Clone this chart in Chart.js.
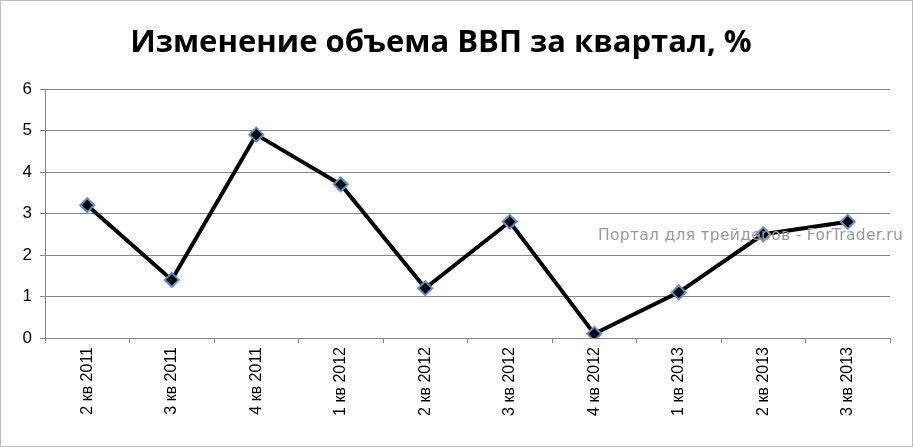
<!DOCTYPE html>
<html><head><meta charset="utf-8">
<script src="https://cdn.jsdelivr.net/npm/chart.js@4"></script>
<style>
body{margin:0;background:#fff;}
#wrap{position:absolute;left:0;top:0;width:911px;height:445px;border:1px solid #bdbdbd;}
#title{position:absolute;left:0;width:880px;top:18px;text-align:center;font:bold 31px "Open Sans",Arial,sans-serif;color:#000;}
#wm{position:absolute;left:597px;top:225px;font:15.5px "DejaVu Sans",sans-serif;color:#999;white-space:nowrap;letter-spacing:0.3px;}
canvas{position:absolute;left:0;top:0;}
</style></head><body>
<div id="wrap">
<canvas id="c" width="911" height="445"></canvas>
<div id="title">Изменение объема ВВП за квартал, %</div>
<div id="wm">Портал для трейдеров - ForTrader.ru</div>
</div>
<script>
const categories = ["2 кв 2011","3 кв 2011","4 кв 2011","1 кв 2012","2 кв 2012","3 кв 2012","4 кв 2012","1 кв 2013","2 кв 2013","3 кв 2013"];
const gdpChange = [3.2, 1.4, 4.9, 3.7, 1.2, 2.8, 0.1, 1.1, 2.5, 2.8];

new Chart(document.getElementById("c"), {
  type: "line",
  data: {
    labels: categories,
    datasets: [{
      data: gdpChange,
      borderColor: "#000",
      borderWidth: 4,
      tension: 0,
      pointStyle: "rectRot",
      pointRadius: 7,
      pointBackgroundColor: "#000",
      pointBorderColor: "#5b8fd0",
      pointBorderWidth: 2
    }]
  },
  options: {
    responsive: false,
    animation: false,
    layout: { padding: { top: 88, right: 22, left: 0, bottom: 0 } },
    plugins: { legend: { display: false }, tooltip: { enabled: false } },
    scales: {
      x: {
        offset: true,
        afterFit: s => { s.height = 108; },
        grid: { display: true, drawOnChartArea: false, offset: true, tickLength: 5, color: "#868686" },
        border: { color: "#868686" },
        ticks: { color: "#000", maxRotation: 90, minRotation: 90, padding: 4, font: { size: 16, family: "Arial" } }
      },
      y: {
        min: 0, max: 6,
        afterFit: s => { s.width = 44; },
        ticks: { stepSize: 1, color: "#000", padding: 8, font: { size: 17, family: "Arial" } },
        grid: { color: "#868686", tickLength: 5 },
        border: { color: "#868686" }
      }
    }
  }
});
</script>
</body></html>
